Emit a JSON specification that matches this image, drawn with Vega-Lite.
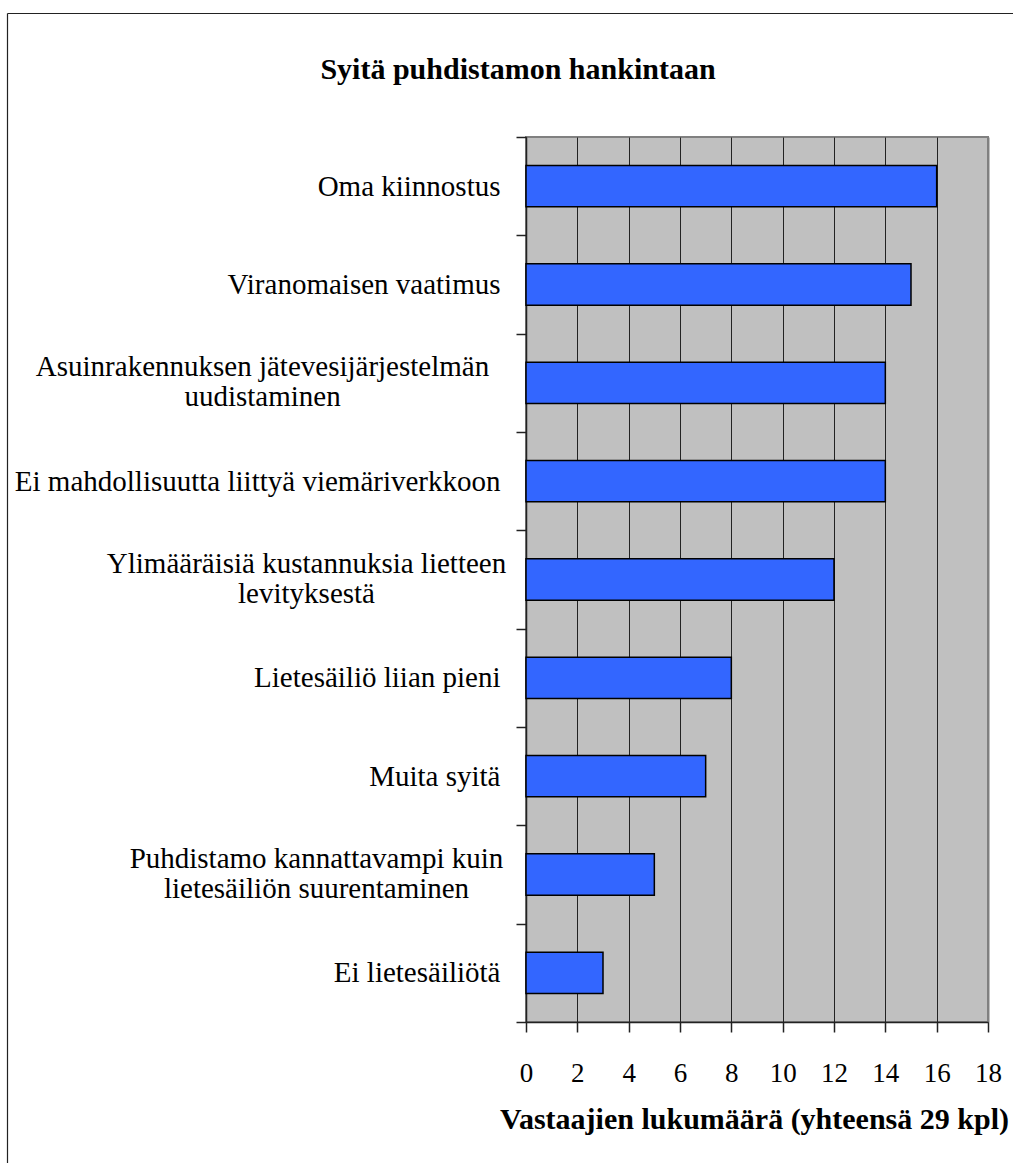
{
  "$schema": "https://vega.github.io/schema/vega-lite/v6.json",
  "autosize": "none",
  "width": 462,
  "height": 885,
  "padding": {"left": 526, "top": 137, "right": 25, "bottom": 141},
  "background": "white",
  "config": {"view": {"fill": "#C0C0C0", "stroke": "#808080", "strokeWidth": 2}},
  "title": {
    "text": "Syitä puhdistamon hankintaan",
    "font": "Liberation Serif",
    "fontSize": 30,
    "fontWeight": "bold",
    "color": "black",
    "anchor": "middle",
    "frame": "group",
    "baseline": "alphabetic",
    "offset": -96,
    "dx": -239
  },
  "data": {
    "values": [
      {"syy": "Oma kiinnostus", "n": 16},
      {"syy": "Viranomaisen vaatimus", "n": 15},
      {"syy": "Asuinrakennuksen jätevesijärjestelmän uudistaminen", "n": 14},
      {"syy": "Ei mahdollisuutta liittyä viemäriverkkoon", "n": 14},
      {"syy": "Ylimääräisiä kustannuksia lietteen levityksestä", "n": 12},
      {"syy": "Lietesäiliö liian pieni", "n": 8},
      {"syy": "Muita syitä", "n": 7},
      {"syy": "Puhdistamo kannattavampi kuin lietesäiliön suurentaminen", "n": 5},
      {"syy": "Ei lietesäiliötä", "n": 3}
    ]
  },
  "resolve": {
    "scale": {"x": "independent", "y": "independent"},
    "axis": {"x": "independent", "y": "independent"}
  },
  "layer": [
    {
      "mark": {"type": "bar", "fill": "#3366FF", "stroke": "black", "strokeWidth": 1.5, "height": {"band": 0.42}},
      "encoding": {
        "y": {
          "field": "syy",
          "type": "nominal",
          "sort": null,
          "scale": {"paddingInner": 0, "paddingOuter": 0},
          "axis": {
            "title": null,
            "orient": "left",
            "domainColor": "#222",
            "domainWidth": 1.5,
            "tickColor": "#222",
            "tickWidth": 1.5,
            "tickSize": 10,
            "tickBand": "extent",
            "labelFont": "Liberation Serif",
            "labelFontSize": 29,
            "labelColor": "black",
            "labelLimit": 0,
            "labelLineHeight": 30,
            "labelBaseline": "middle",
            "labelAlign": {
              "condition": {
                "test": "datum.value === 'Asuinrakennuksen jätevesijärjestelmän uudistaminen' || datum.value === 'Ylimääräisiä kustannuksia lietteen levityksestä' || datum.value === 'Puhdistamo kannattavampi kuin lietesäiliön suurentaminen'",
                "value": "center"
              },
              "value": "right"
            },
            "labelOffset": {
              "condition": {
                "test": "datum.value === 'Asuinrakennuksen jätevesijärjestelmän uudistaminen' || datum.value === 'Ylimääräisiä kustannuksia lietteen levityksestä' || datum.value === 'Puhdistamo kannattavampi kuin lietesäiliön suurentaminen'",
                "value": -16
              },
              "value": 0
            },
            "labelPadding": {
              "condition": [
                {"test": "datum.value === 'Asuinrakennuksen jätevesijärjestelmän uudistaminen'", "value": 254},
                {"test": "datum.value === 'Ylimääräisiä kustannuksia lietteen levityksestä'", "value": 210},
                {"test": "datum.value === 'Puhdistamo kannattavampi kuin lietesäiliön suurentaminen'", "value": 200}
              ],
              "value": 16
            },
            "labelExpr": "datum.value === 'Asuinrakennuksen jätevesijärjestelmän uudistaminen' ? ['Asuinrakennuksen jätevesijärjestelmän', 'uudistaminen'] : datum.value === 'Ylimääräisiä kustannuksia lietteen levityksestä' ? ['Ylimääräisiä kustannuksia lietteen', 'levityksestä'] : datum.value === 'Puhdistamo kannattavampi kuin lietesäiliön suurentaminen' ? ['Puhdistamo kannattavampi kuin', 'lietesäiliön suurentaminen'] : datum.label"
          }
        },
        "x": {
          "field": "n",
          "type": "quantitative",
          "scale": {"domain": [0, 18], "nice": false, "zero": true},
          "axis": {
            "orient": "bottom",
            "values": [0, 2, 4, 6, 8, 10, 12, 14, 16, 18],
            "grid": true,
            "gridColor": {"condition": {"test": "datum.value === 18", "value": "#808080"}, "value": "#222"},
            "gridWidth": {"condition": {"test": "datum.value === 18", "value": 2}, "value": 1},
            "domainColor": "#222",
            "domainWidth": 1.5,
            "tickColor": "#222",
            "tickWidth": 1.5,
            "tickSize": 10,
            "labelFont": "Liberation Serif",
            "labelFontSize": 27,
            "labelColor": "black",
            "labelBaseline": "alphabetic",
            "labelPadding": 49,
            "labelFlush": false,
            "labelOverlap": false,
            "title": "Vastaajien lukumäärä (yhteensä 29 kpl)",
            "titleFont": "Liberation Serif",
            "titleFontSize": 30,
            "titleFontWeight": "bold",
            "titleColor": "black",
            "titleBaseline": "alphabetic",
            "titleX": 228,
            "titleY": 106
          }
        }
      }
    },
    {
      "mark": {"type": "point", "opacity": 0},
      "encoding": {
        "x": {
          "field": "n",
          "type": "quantitative",
          "scale": {"domain": [0, 1], "range": [-519, 520], "nice": false},
          "axis": {"orient": "top", "offset": 124, "domain": true, "domainColor": "#222", "domainWidth": 1.2, "ticks": false, "labels": false, "grid": false, "title": null}
        },
        "y": {
          "field": "n",
          "type": "quantitative",
          "scale": {"domain": [0, 1], "range": [-124, 1100], "nice": false},
          "axis": {"orient": "left", "offset": 519, "domain": true, "domainColor": "#222", "domainWidth": 1.2, "ticks": false, "labels": false, "grid": false, "title": null}
        }
      }
    }
  ]
}
